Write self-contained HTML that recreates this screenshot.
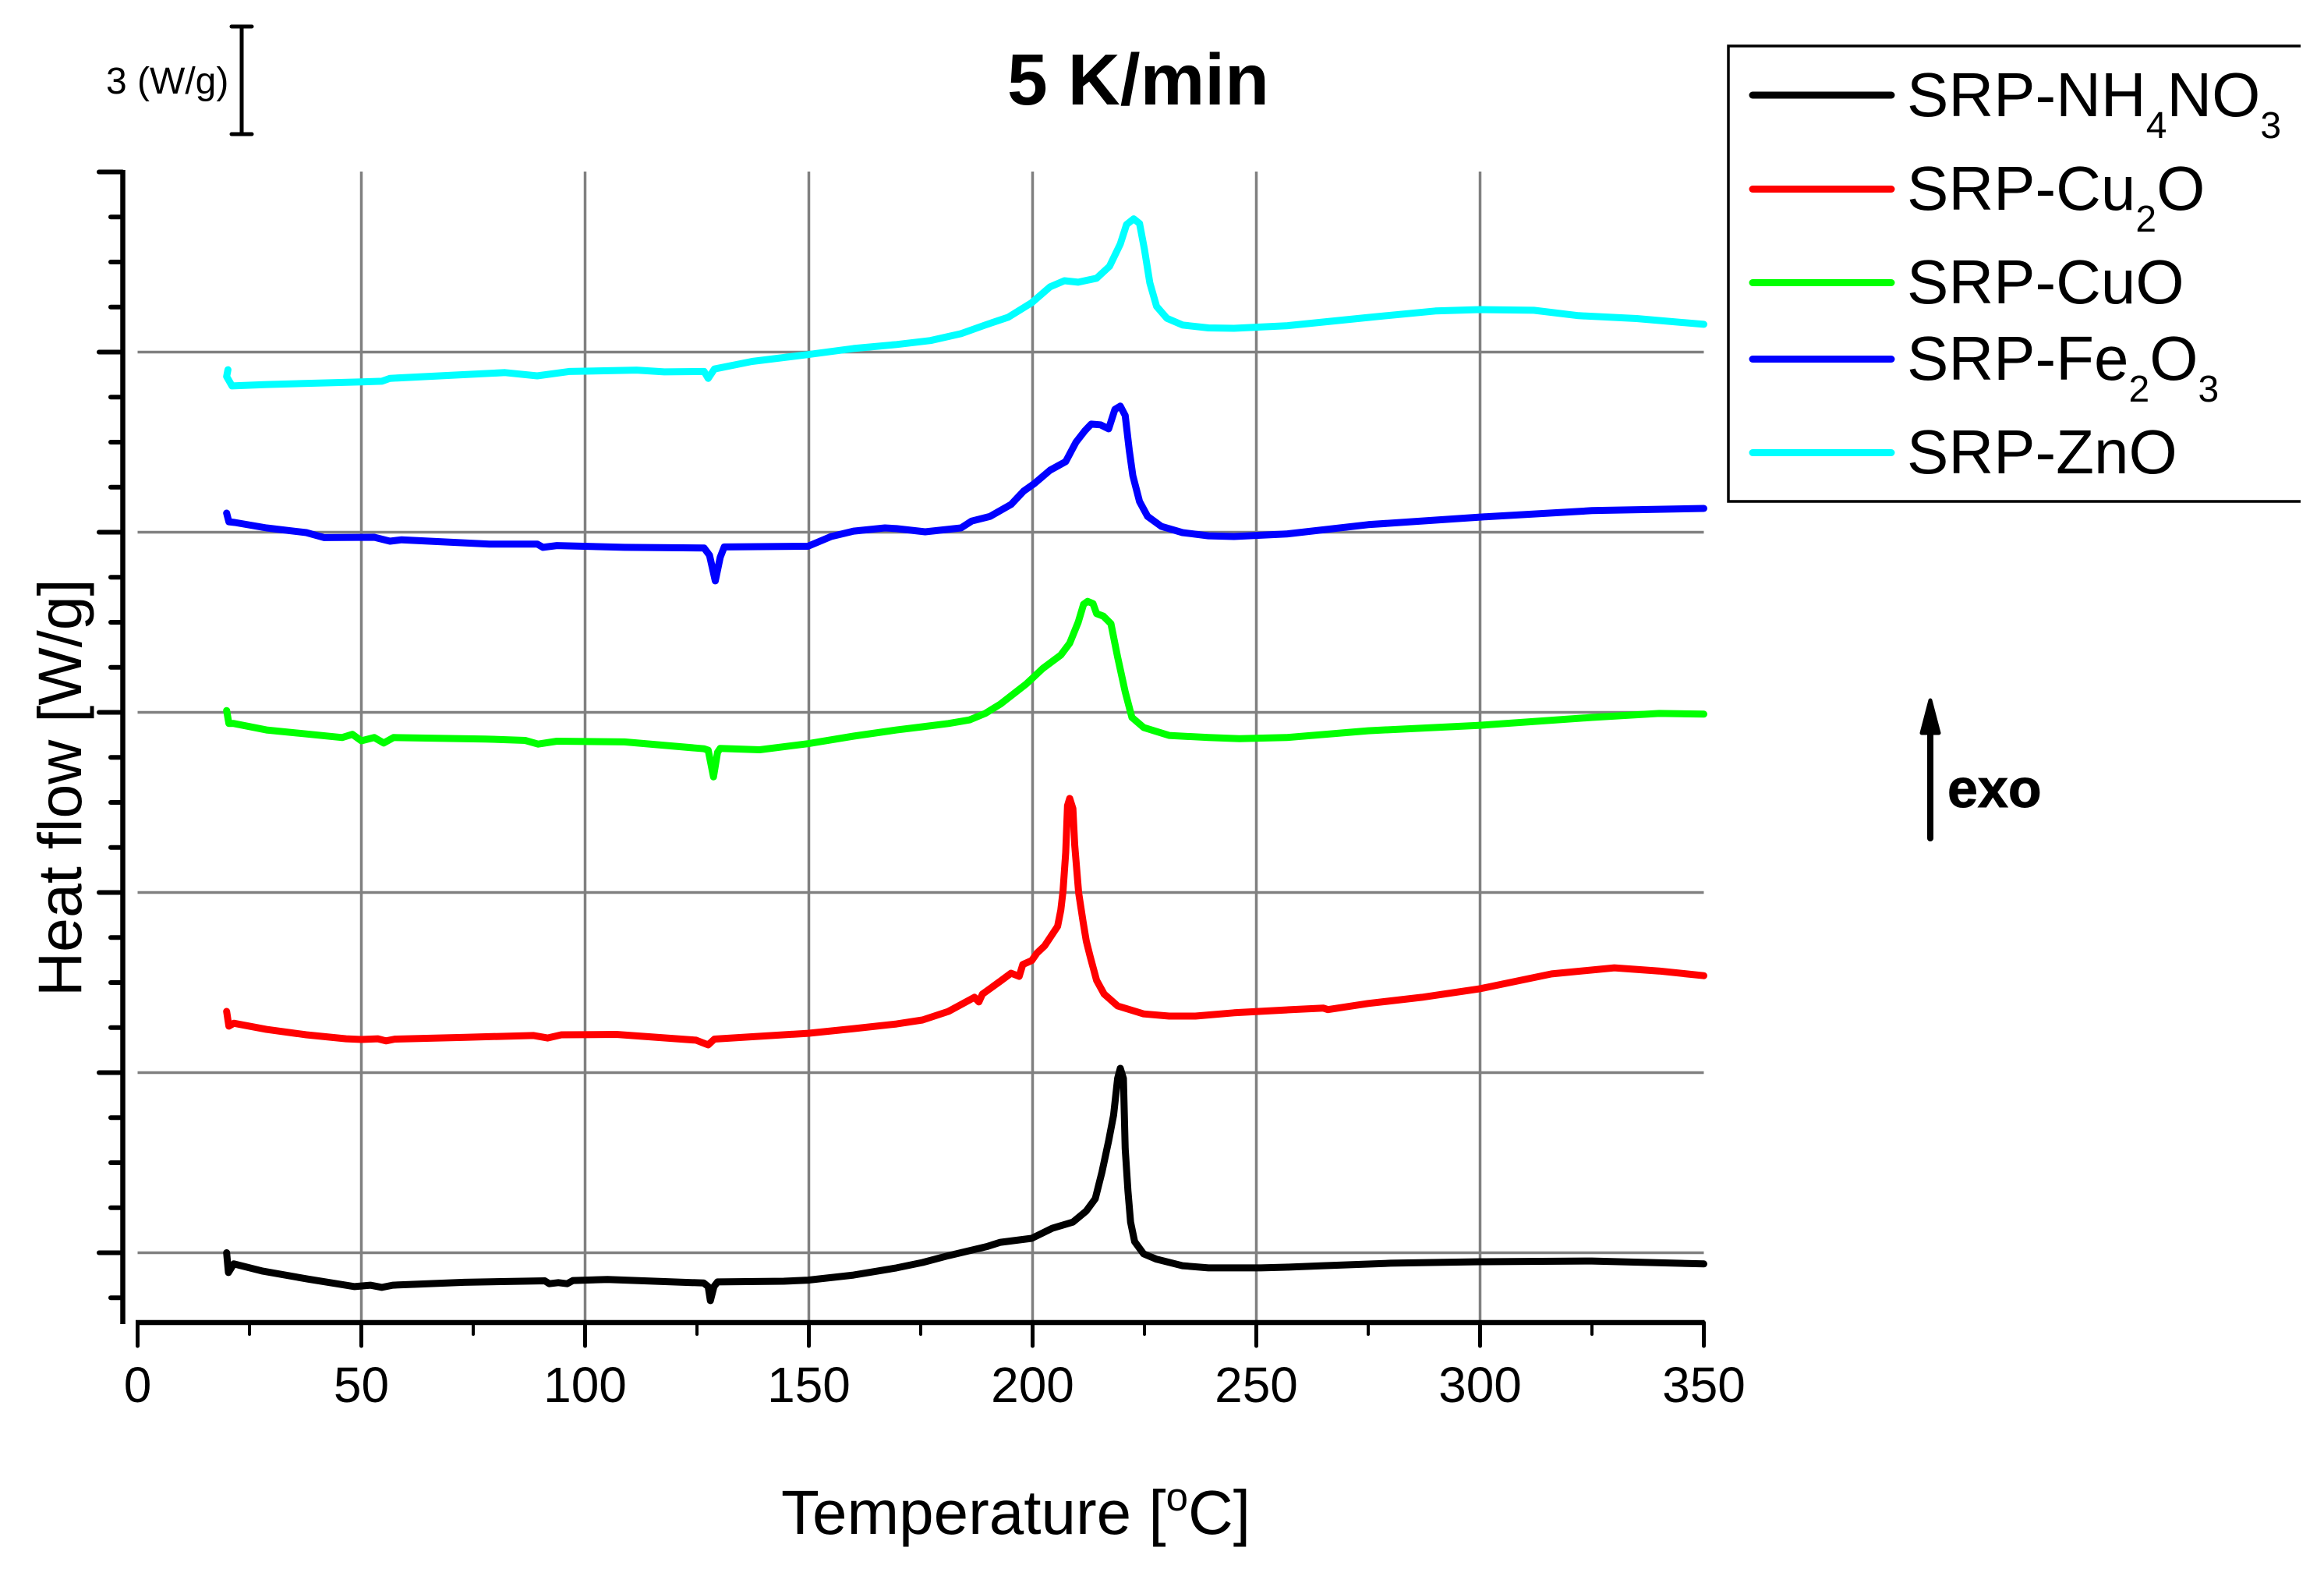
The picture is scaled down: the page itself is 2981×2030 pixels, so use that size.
<!DOCTYPE html>
<html lang="en">
<head>
<meta charset="utf-8">
<title>5 K/min heat flow chart</title>
<style>
  html, body { margin: 0; padding: 0; background: #fff; }
  svg { display: block; font-family: "Liberation Sans", Arial, sans-serif; }
</style>
</head>
<body>
<svg id="chart" xmlns="http://www.w3.org/2000/svg" width="2981" height="2030" viewBox="0 0 2981 2030">
  <rect x="0" y="0" width="2981" height="2030" fill="#ffffff"/>
  <g id="grid"></g>
  <g id="series"></g>
  <g id="axes"></g>

  <text x="1460" y="134" font-size="93" font-weight="bold" text-anchor="middle">5 K/min</text>
  <text x="1002" y="1967" font-size="80">Temperature [<tspan font-size="51" dy="-30">o</tspan><tspan dy="30">C]</tspan></text>
  <text transform="translate(104 1278) rotate(-90)" font-size="79">Heat flow [W/g]</text>

  <g>
    <text x="136" y="120" font-size="48">3 (W/g)</text>
    <line x1="310" y1="34" x2="310" y2="172" stroke="#000" stroke-width="5"/>
    <line x1="297" y1="34" x2="323" y2="34" stroke="#000" stroke-width="5" stroke-linecap="round"/>
    <line x1="297" y1="172" x2="323" y2="172" stroke="#000" stroke-width="5" stroke-linecap="round"/>
  </g>

  <g>
    <path d="M2951 59 H2217 V643 H2951" fill="none" stroke="#000" stroke-width="3.5"/>
    <g>
      <line x1="2248" y1="122" x2="2426" y2="122" stroke="#000000" stroke-width="9" stroke-linecap="round"/>
      <text x="2446" y="149" font-size="80">SRP-NH<tspan font-size="48" dy="28">4</tspan><tspan dy="-28">NO</tspan><tspan font-size="48" dy="28">3</tspan></text>
    </g>
    <g>
      <line x1="2248" y1="242.5" x2="2426" y2="242.5" stroke="#ff0000" stroke-width="9" stroke-linecap="round"/>
      <text x="2446" y="269" font-size="80">SRP-Cu<tspan font-size="48" dy="28">2</tspan><tspan dy="-28">O</tspan></text>
    </g>
    <g>
      <line x1="2248" y1="362.5" x2="2426" y2="362.5" stroke="#00ff00" stroke-width="9" stroke-linecap="round"/>
      <text x="2446" y="389" font-size="80">SRP-CuO</text>
    </g>
    <g>
      <line x1="2248" y1="460.5" x2="2426" y2="460.5" stroke="#0000ff" stroke-width="9" stroke-linecap="round"/>
      <text x="2446" y="487" font-size="80">SRP-Fe<tspan font-size="48" dy="28">2</tspan><tspan dy="-28">O</tspan><tspan font-size="48" dy="28">3</tspan></text>
    </g>
    <g>
      <line x1="2248" y1="580.5" x2="2426" y2="580.5" stroke="#00ffff" stroke-width="9" stroke-linecap="round"/>
      <text x="2446" y="607" font-size="80">SRP-ZnO</text>
    </g>
  </g>

  <g>
    <line x1="2476" y1="936" x2="2476" y2="1075" stroke="#000" stroke-width="8" stroke-linecap="round"/>
    <polygon points="2476,898 2465,940 2487,940" fill="#000" stroke="#000" stroke-width="5" stroke-linejoin="round"/>
    <text x="2498" y="1035" font-size="70" font-weight="bold" stroke="#000" stroke-width="1">exo</text>
  </g>
</svg>

<script>
// Tick and grid values
const xMajorTicks = [0, 50, 100, 150, 200, 250, 300, 350];
const xMinorTicks = [25, 75, 125, 175, 225, 275, 325];
const xGridValues = [50, 100, 150, 200, 250, 300];
const yMajorTicks = [0, 5, 10, 15, 20, 25, 30];
const yMinorTicks = [-1.25, 1.25, 2.5, 3.75, 6.25, 7.5, 8.75, 11.25, 12.5, 13.75, 16.25, 17.5, 18.75, 21.25, 22.5, 23.75, 26.25, 27.5, 28.75];
const yGridValues = [0, 5, 10, 15, 20, 25];

// SRP-NH4NO3: temperature (C), heat flow (W/g, stacked offset)
const tempNH4NO3 = [19.9, 20.3, 21.5, 28, 38, 48.5, 52, 54.6, 57, 73, 91, 92, 94, 96, 97.3, 105, 126.5, 127.5, 128, 128.8, 129.6, 144.4, 149.8, 160, 169.6, 175.4, 181.2, 190, 192.8, 199.8, 204.4, 209, 212, 214, 215.5, 217, 218.1, 219, 219.6, 220.3, 220.7, 221.3, 221.9, 222.8, 224.8, 227.7, 233.5, 239.3, 251, 256.7, 265, 280, 300, 325, 350];
const flowNH4NO3 = [0.0, -0.55, -0.31, -0.51, -0.73, -0.94, -0.90, -0.96, -0.90, -0.82, -0.78, -0.86, -0.83, -0.86, -0.77, -0.74, -0.84, -0.94, -1.33, -0.94, -0.81, -0.79, -0.76, -0.62, -0.42, -0.27, -0.08, 0.18, 0.29, 0.40, 0.68, 0.85, 1.16, 1.50, 2.24, 3.11, 3.82, 4.84, 5.12, 4.84, 2.89, 1.72, 0.85, 0.31, -0.03, -0.18, -0.36, -0.42, -0.42, -0.40, -0.36, -0.29, -0.25, -0.23, -0.31];

// SRP-Cu2O
const tempCu2O = [19.9, 20.4, 21.5, 28.8, 37.7, 46.6, 50, 53.7, 55.5, 57.5, 73.3, 88.5, 91.6, 94.7, 107, 124.8, 127.5, 128.9, 149.8, 160, 169.6, 175.4, 181.2, 187, 188, 188.8, 192.8, 195.2, 197, 197.8, 199.8, 201, 202.7, 205.6, 206.3, 206.8, 207.4, 207.8, 208.3, 209, 209.4, 210.3, 211.3, 212, 212.9, 214.3, 216, 219, 224.8, 230.5, 236.4, 245, 256.7, 265, 266, 275, 287, 300, 316, 330, 340, 350];
const flowCu2O = [6.70, 6.29, 6.37, 6.20, 6.05, 5.94, 5.92, 5.94, 5.88, 5.93, 5.98, 6.03, 5.96, 6.05, 6.06, 5.90, 5.77, 5.93, 6.09, 6.22, 6.35, 6.46, 6.70, 7.09, 6.96, 7.18, 7.54, 7.76, 7.67, 8.00, 8.11, 8.32, 8.52, 9.06, 9.51, 10.03, 11.11, 12.41, 12.61, 12.33, 11.33, 9.99, 9.17, 8.65, 8.21, 7.56, 7.18, 6.85, 6.63, 6.57, 6.57, 6.66, 6.74, 6.79, 6.75, 6.92, 7.09, 7.33, 7.74, 7.91, 7.82, 7.69];

// SRP-CuO
const tempCuO = [19.9, 20.4, 21.5, 28.8, 37.7, 45.7, 48, 50, 52.9, 55, 57.2, 77.7, 86.6, 89.5, 93.7, 108.8, 126.6, 127.5, 128.7, 129.6, 130.2, 139, 149.8, 160, 169.6, 175.4, 181.2, 185.9, 189.4, 192.8, 198.6, 202.3, 206.3, 208.3, 210.2, 211.4, 212.3, 213.5, 214.3, 215.8, 217.5, 219, 220.7, 222.2, 224.8, 230.5, 239.3, 246.2, 256.7, 275, 300, 325, 340, 350];
const flowCuO = [15.05, 14.69, 14.69, 14.51, 14.40, 14.30, 14.39, 14.21, 14.30, 14.15, 14.30, 14.26, 14.22, 14.12, 14.20, 14.18, 13.99, 13.95, 13.21, 13.89, 14.00, 13.96, 14.13, 14.34, 14.51, 14.60, 14.69, 14.79, 14.97, 15.23, 15.79, 16.22, 16.59, 16.92, 17.50, 18.00, 18.08, 18.02, 17.74, 17.67, 17.46, 16.53, 15.57, 14.86, 14.58, 14.36, 14.30, 14.27, 14.30, 14.49, 14.64, 14.86, 14.97, 14.95];

// SRP-Fe2O3
const tempFe2O3 = [19.9, 20.4, 21.7, 28.8, 37.7, 41.7, 52.9, 56.4, 59, 78.6, 89.3, 90.6, 93.7, 108.8, 126.6, 127.8, 129.1, 130.2, 131.1, 149.8, 155, 160, 167, 169.6, 176, 184, 186.4, 190.5, 195.2, 198, 200.4, 203.9, 207.4, 209.7, 211.7, 213.1, 215.2, 217, 218.4, 219.6, 220.7, 221.6, 222.4, 223.9, 225.7, 228.8, 233.5, 239.3, 245, 256.7, 275, 300, 325, 350];
const flowFe2O3 = [20.53, 20.29, 20.27, 20.12, 19.99, 19.85, 19.86, 19.75, 19.79, 19.67, 19.67, 19.58, 19.63, 19.58, 19.56, 19.36, 18.65, 19.30, 19.59, 19.61, 19.88, 20.03, 20.12, 20.10, 20.01, 20.12, 20.31, 20.44, 20.77, 21.14, 21.35, 21.72, 21.96, 22.50, 22.82, 23.00, 22.98, 22.87, 23.41, 23.50, 23.24, 22.28, 21.57, 20.85, 20.44, 20.16, 19.99, 19.90, 19.88, 19.95, 20.21, 20.42, 20.60, 20.66];

// SRP-ZnO
const tempZnO = [20.2, 19.9, 21.1, 28.8, 50, 54.6, 56.4, 82.1, 89.3, 96.4, 111.5, 117.7, 126.6, 127.5, 128.9, 137.3, 149.8, 160, 169.6, 177.2, 184, 189.4, 194.6, 199.8, 203.9, 207.1, 210.2, 214.3, 217.2, 219.6, 221, 222.6, 223.9, 225, 226.2, 227.7, 230, 233.5, 239.3, 245, 256.7, 275, 290, 300, 312, 322, 335, 350];
const flowZnO = [24.51, 24.32, 24.06, 24.10, 24.17, 24.19, 24.27, 24.43, 24.34, 24.46, 24.50, 24.45, 24.46, 24.27, 24.53, 24.74, 24.93, 25.10, 25.21, 25.32, 25.51, 25.75, 25.97, 26.37, 26.81, 26.98, 26.94, 27.05, 27.38, 28.00, 28.54, 28.70, 28.57, 27.85, 26.92, 26.27, 25.94, 25.75, 25.67, 25.66, 25.73, 25.96, 26.14, 26.18, 26.16, 26.01, 25.93, 25.77];

// Axis functions
function xAxis(temperature) { return 176.5 + temperature * 5.74; }
function yAxis(flow) { return 1606.5 - flow * 46.2; }

const SVG_NS = 'http://www.w3.org/2000/svg';
const gridLayer = document.getElementById('grid');
const seriesLayer = document.getElementById('series');
const axesLayer = document.getElementById('axes');

function makeLine(parent, x1, y1, x2, y2, color, width, cap) {
  const el = document.createElementNS(SVG_NS, 'line');
  el.setAttribute('x1', x1);
  el.setAttribute('y1', y1);
  el.setAttribute('x2', x2);
  el.setAttribute('y2', y2);
  el.setAttribute('stroke', color);
  el.setAttribute('stroke-width', width);
  el.setAttribute('stroke-linecap', cap || 'butt');
  parent.appendChild(el);
  return el;
}

// Grid
xGridValues.forEach(function (v) {
  const el = makeLine(gridLayer, xAxis(v), 220, xAxis(v), 1696, '#808080', 3.5);
  
  
});
yGridValues.forEach(function (v) {
  const el = makeLine(gridLayer, xAxis(0), yAxis(v), xAxis(350), yAxis(v), '#808080', 3.5);
  
  
});

// Series
function drawSeries(name, temps, flows, color) {
  const el = document.createElementNS(SVG_NS, 'polyline');
  const pts = temps.map(function (t, i) { return xAxis(t).toFixed(1) + ',' + yAxis(flows[i]).toFixed(1); });
  el.setAttribute('points', pts.join(' '));
  el.setAttribute('fill', 'none');
  el.setAttribute('stroke', color);
  el.setAttribute('stroke-width', '9');
  el.setAttribute('stroke-linejoin', 'round');
  el.setAttribute('stroke-linecap', 'round');
  
  
  seriesLayer.appendChild(el);
}
drawSeries('series-srp-nh4no3', tempNH4NO3, flowNH4NO3, '#000000');
drawSeries('series-srp-cu2o', tempCu2O, flowCu2O, '#ff0000');
drawSeries('series-srp-cuo', tempCuO, flowCuO, '#00ff00');
drawSeries('series-srp-fe2o3', tempFe2O3, flowFe2O3, '#0000ff');
drawSeries('series-srp-zno', tempZnO, flowZnO, '#00ffff');

// Axes
const yAxisLine = makeLine(axesLayer, 157.5, 218, 157.5, 1698, '#000', 6.5);


const xAxisLine = makeLine(axesLayer, 174, 1696, xAxis(350) + 1, 1696, '#000', 6.5);



yMajorTicks.forEach(function (v) {
  const el = makeLine(axesLayer, 127, yAxis(v), 157, yAxis(v), '#000', 6, 'round');
  
  
});
yMinorTicks.forEach(function (v) {
  const el = makeLine(axesLayer, 142, yAxis(v), 157, yAxis(v), '#000', 6, 'round');
  
  
});
xMajorTicks.forEach(function (v) {
  const el = makeLine(axesLayer, xAxis(v), 1696, xAxis(v), 1726, '#000', 5, 'round');
  
  
  const label = document.createElementNS(SVG_NS, 'text');
  label.setAttribute('x', xAxis(v));
  label.setAttribute('y', 1798);
  label.setAttribute('font-size', '64');
  label.setAttribute('text-anchor', 'middle');
  label.textContent = String(v);
  
  
  axesLayer.appendChild(label);
});
xMinorTicks.forEach(function (v) {
  const el = makeLine(axesLayer, xAxis(v), 1696, xAxis(v), 1711, '#000', 4, 'round');
  
  
});
</script>
</body>
</html>
